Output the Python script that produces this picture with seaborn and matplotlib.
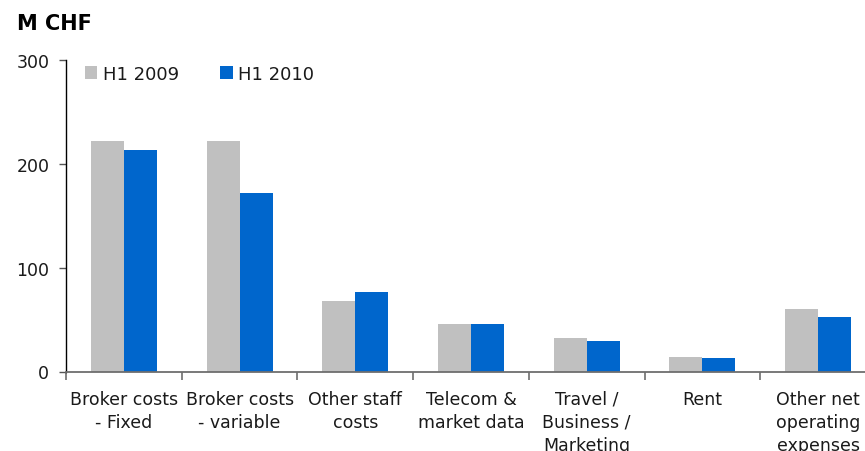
import matplotlib
matplotlib.use("Agg")
import matplotlib.pyplot as plt
import seaborn as sns
import pandas as pd

categories = ["Broker costs\n- Fixed", "Broker costs\n- variable", "Other staff\ncosts",
              "Telecom &\nmarket data", "Travel /\nBusiness /\nMarketing", "Rent",
              "Other net\noperating\nexpenses"]
h1_2009 = [222, 222, 68, 46, 32, 14, 60]
h1_2010 = [213, 172, 76, 46, 29, 13, 52]
series_names = ["H1 2009", "H1 2010"]
yticks = [0, 100, 200, 300]

df = pd.DataFrame({
    "category": categories * 2,
    "value": h1_2009 + h1_2010,
    "period": [series_names[0]] * len(categories) + [series_names[1]] * len(categories),
})

sns.set_style("white")
plt.rcParams['font.family'] = ['DejaVu Sans']
text_color = "#1a1a1a"

fig = plt.figure(figsize=(8.65, 4.52), dpi=100)
ax = fig.add_axes([66 / 865, 79.5 / 452, 810 / 865, 312 / 452])

sns.barplot(data=df, x="category", y="value", hue="period", order=categories,
            hue_order=series_names, palette=["#C0C0C0", "#0066CC"],
            width=0.57, saturation=1, ax=ax, gap=0, linewidth=0, edgecolor="none")

ax.set_xlim(-0.5, len(categories) - 0.5)
ax.set_ylim(0, 300)
ax.set_yticks(yticks)
ax.set_yticklabels([str(v) for v in yticks])
ax.set_xlabel("")
ax.set_ylabel("")

for s in ["top", "right"]:
    ax.spines[s].set_visible(False)
ax.spines["left"].set_color("black")
ax.spines["left"].set_linewidth(1.0)
ax.spines["bottom"].set_color("#6e6e6e")
ax.spines["bottom"].set_linewidth(1.3)

ax.tick_params(axis="x", which="major", length=0, pad=13, labelsize=12.5, labelcolor=text_color)
for lab in ax.get_xticklabels():
    lab.set_linespacing(1.38)
ax.set_xticks([i + 0.5 for i in range(-1, len(categories))], minor=True)
ax.tick_params(axis="x", which="minor", bottom=True, length=6, width=1.2, color="#6e6e6e",
               direction="out")
ax.tick_params(axis="y", which="major", length=5, width=1.0, color="#555555", direction="out",
               pad=7, labelsize=12.5, labelcolor=text_color, left=True)

handles, labels = ax.get_legend_handles_labels()
ax.legend(handles, labels, loc="upper left", bbox_to_anchor=((85 - 66) / 810, (372.5 - 66) / 312),
          ncol=2, frameon=False, fontsize=13, handlelength=0.68, handleheight=0.68,
          handletextpad=0.3, columnspacing=2.3, borderpad=0, borderaxespad=0,
          labelcolor=text_color)

fig.text(17 / 865, 1 - 30 / 452, "M CHF", fontsize=15, fontweight="bold",
         color="black", va="baseline", ha="left")

fig.savefig("out.png", dpi=100)
